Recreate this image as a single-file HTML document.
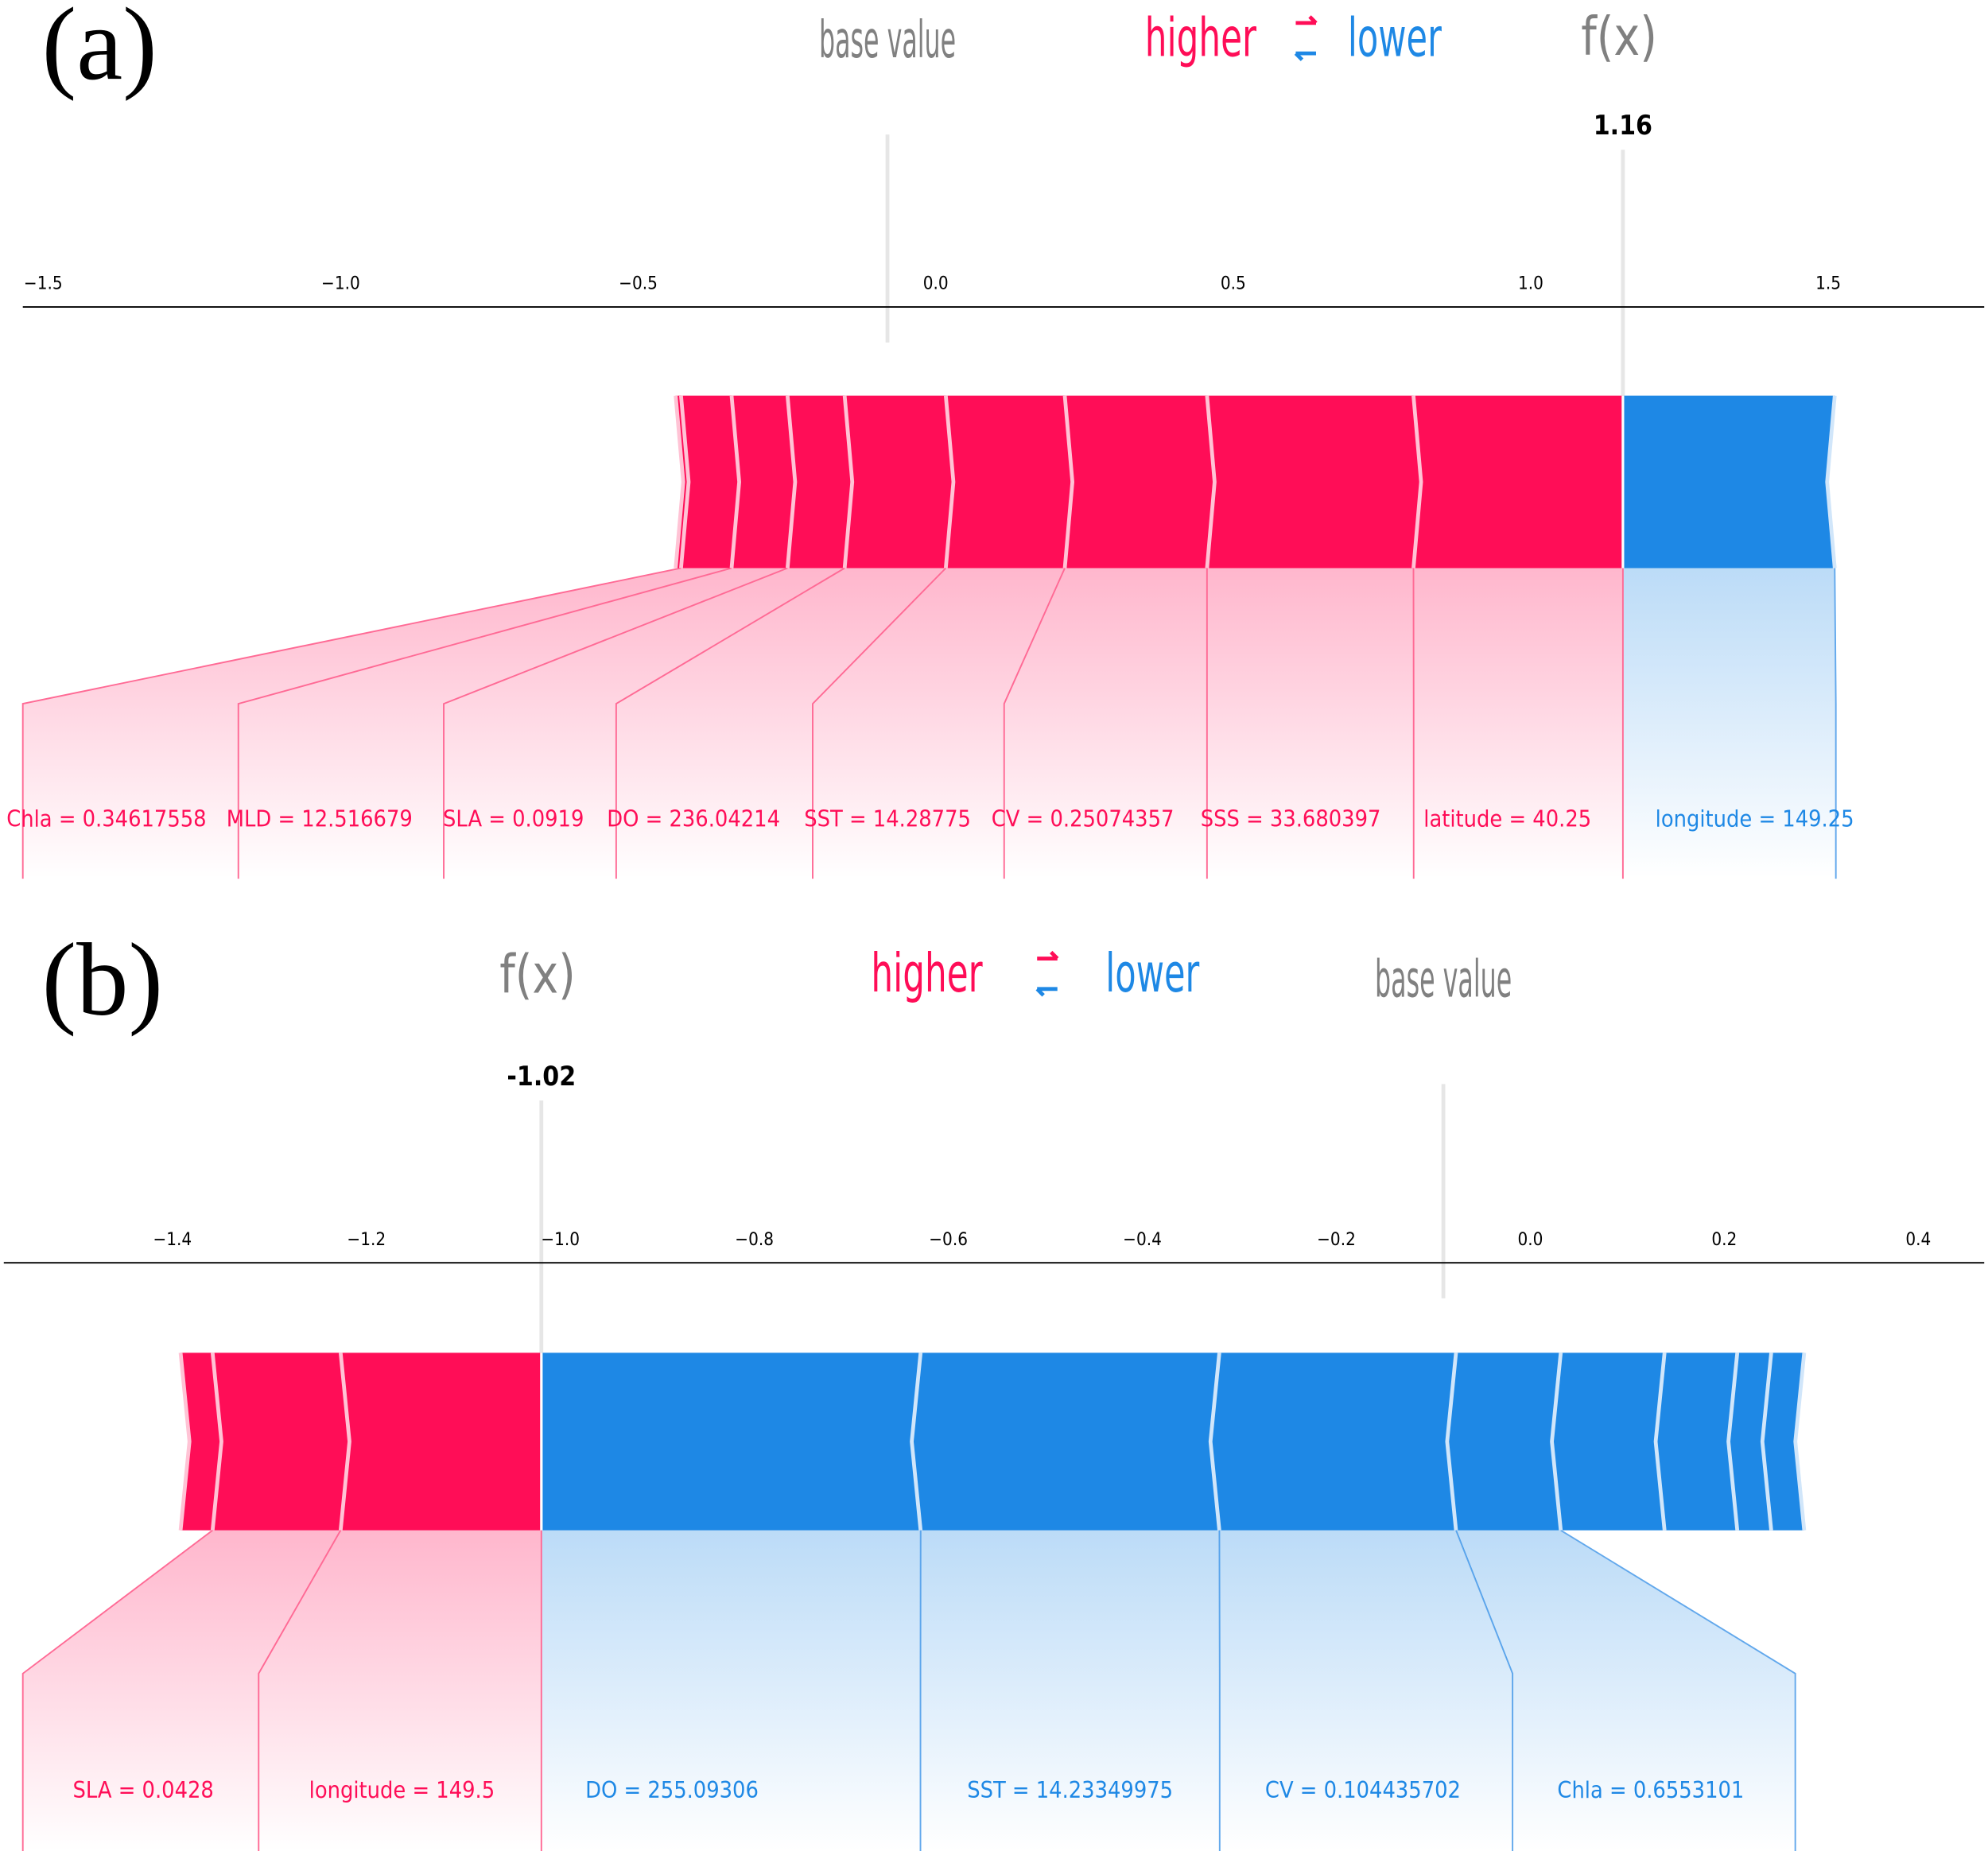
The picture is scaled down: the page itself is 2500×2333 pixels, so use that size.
<!DOCTYPE html>
<html><head><meta charset="utf-8"><style>
html,body{margin:0;padding:0;background:#fff}
svg{display:block}
text{font-family:"DejaVu Sans Condensed","DejaVu Sans","Liberation Sans",sans-serif}
text.serif{font-family:"Liberation Serif","DejaVu Serif",serif}
</style></head><body>
<svg id="chart" width="2500" height="2333" viewBox="0 0 1568 1463" xmlns="http://www.w3.org/2000/svg">
<defs>
<linearGradient id="gr" x1="0" y1="0" x2="0" y2="1"><stop offset="0" stop-color="#ff0d57" stop-opacity="0.3"/><stop offset="1" stop-color="#ff0d57" stop-opacity="0"/></linearGradient>
<linearGradient id="gb" x1="0" y1="0" x2="0" y2="1"><stop offset="0" stop-color="#1e88e5" stop-opacity="0.3"/><stop offset="1" stop-color="#1e88e5" stop-opacity="0"/></linearGradient>
</defs>
</svg>
<script>
// ---- data panel (a)
const aFx = 1.16;
const aFxPos = 1.155;
const aRedNames = ["latitude","SSS","CV","SST","DO","SLA","MLD","Chla","other"];
const aRedValues = ["40.25","33.680397","0.25074357","14.28775","236.04214","0.0919","12.516679","0.34617558",""];
const aRedEffects = [0.352,0.347,0.239,0.200,0.170,0.096,0.094,0.085,0.009];
const aBlueNames = ["longitude"];
const aBlueValues = ["149.25"];
const aBlueEffects = [0.356];
const aTicks = [-1.5,-1.0,-0.5,0.0,0.5,1.0,1.5];
const aTickLabels = ["\u22121.5","\u22121.0","\u22120.5","0.0","0.5","1.0","1.5"];
// ---- data panel (b)
const bFx = -1.02;
const bFxPos = -1.0196;
const bRedNames = ["longitude","SLA","other"];
const bRedValues = ["149.5","0.0428",""];
const bRedEffects = [0.207,0.132,0.033];
const bBlueNames = ["DO","SST","CV","Chla","o1","o2","o3","o4"];
const bBlueValues = ["255.09306","14.23349975","0.104435702","0.6553101","","","",""];
const bBlueEffects = [0.391,0.308,0.244,0.108,0.107,0.075,0.035,0.034];
const bTicks = [-1.4,-1.2,-1.0,-0.8,-0.6,-0.4,-0.2,0.0,0.2,0.4];
const bTickLabels = ["\u22121.4","\u22121.2","\u22121.0","\u22120.8","\u22120.6","\u22120.4","\u22120.2","0.0","0.2","0.4"];

const svg = document.getElementById('chart');
const NS = 'http://www.w3.org/2000/svg';
function mk(tag, attrs, parent){const e=document.createElementNS(NS,tag);for(const k in attrs)e.setAttribute(k,attrs[k]);(parent||svg).appendChild(e);return e;}
function txt(s, attrs, parent){const e=mk('text',attrs,parent);e.textContent=s;return e;}

function panel(cfg){
  const g = mk('g',{});
  
  
  const X = v => cfg.x0 + v*cfg.scale;
  const pl = txt(cfg.letter,{x:33,y:cfg.hy+22,'font-size':82,'class':'serif',fill:'#000'},g);
  
  
  const redSum = cfg.red.reduce((a,b)=>a+b,0), blueSum = cfg.blue.reduce((a,b)=>a+b,0);
  const base = cfg.fxPos - redSum + blueSum;
  const bx = X(base), fxX = X(cfg.fxPos);
  const bt = txt('base value',{x:bx,y:cfg.hy+cfg.bvdy,'text-anchor':'middle','font-size':40,fill:'#808080',textLength:108,lengthAdjust:'spacingAndGlyphs'},g);
  
  
  const ft = txt('f(x)',{x:fxX-3,y:cfg.hy+cfg.fxdy,'text-anchor':'middle','font-size':42,fill:'#808080',textLength:60,lengthAdjust:'spacingAndGlyphs'},g);
  
  
  const hi = txt('higher',{x:cfg.hix,y:cfg.hy+4,'text-anchor':'middle','font-size':42,fill:'#ff0d57',textLength:88,lengthAdjust:'spacingAndGlyphs'},g);
  
  
  const lo = txt('lower',{x:cfg.lox,y:cfg.hy+4,'text-anchor':'middle','font-size':42,fill:'#1e88e5',textLength:74,lengthAdjust:'spacingAndGlyphs'},g);
  
  
  const ax = cfg.arx, ay = cfg.hy-22;
  const ar = mk('path',{d:`M${ax-8},${ay} L${ax+8},${ay} M${ax+3},${ay-5} L${ax+8},${ay}`,stroke:'#ff0d57','stroke-width':3,fill:'none'},g);
  
  
  const al = mk('path',{d:`M${ax+8},${ay+24} L${ax-8},${ay+24} M${ax-3},${ay+29} L${ax-8},${ay+24}`,stroke:'#1e88e5','stroke-width':3,fill:'none'},g);
  
  
  const bl = mk('line',{x1:bx,x2:bx,y1:cfg.baseTop,y2:cfg.axisY+28,stroke:'#e6e6e6','stroke-width':3},g);
  
  
  const fl = mk('line',{x1:fxX,x2:fxX,y1:cfg.fxTop,y2:cfg.barTop,stroke:'#e6e6e6','stroke-width':3},g);
  
  
  const fv = txt(cfg.fxLabel,{x:fxX,y:cfg.fxTop-12,'text-anchor':'middle','font-size':21,'font-weight':'bold',fill:'#000'},g);
  
  
  const axl = mk('line',{x1:cfg.axL,x2:1565,y1:cfg.axisY,y2:cfg.axisY,stroke:'#000','stroke-width':1.2},g);
  
  
  cfg.ticks.forEach((t,i)=>{
    const tl = txt(cfg.tickLabels[i],{x:X(t),y:cfg.axisY-14,'text-anchor':'middle','font-size':14,fill:'#000'},g);
    
    
  });
  const top=cfg.barTop, bot=cfg.barBot, mid=(top+bot)/2, c=cfg.chev;
  let cur = cfg.fxPos;
  const redSegs=[], blueSegs=[];
  cfg.red.forEach((e,i)=>{ const r=X(cur), l=X(cur-e); redSegs.push([l,r,i]); cur-=e; });
  cur = cfg.fxPos;
  cfg.blue.forEach((e,i)=>{ const l=X(cur), r=X(cur+e); blueSegs.push([l,r,i]); cur+=e; });
  cfg.labels.forEach(L=>{
    const seg = (L.side==='r'?redSegs:blueSegs)[L.i];
    const [sl,sr]=seg;
    const col = L.side==='r'?'#ff0d57':'#1e88e5';
    const poly = mk('polygon',{points:`${sl},${bot} ${sr},${bot} ${L.x1},${cfg.bendY} ${L.x1},${cfg.lblBot} ${L.x0},${cfg.lblBot} ${L.x0},${cfg.bendY}`,fill:L.side==='r'?'url(#gr)':'url(#gb)'},g);
    
    
    const edgeX = L.side==='r'?sl:sr, edgeL = L.side==='r'?L.x0:L.x1;
    const pl2 = mk('polyline',{points:`${edgeX},${bot} ${edgeL},${cfg.bendY} ${edgeL},${cfg.lblBot}`,fill:'none',stroke:L.side==='r'?'#ff6a95':'#62a8ec','stroke-width':1.2},g);
    
    
    const name = (L.side==='r'?cfg.redNames:cfg.blueNames)[L.i];
    const val = (L.side==='r'?cfg.redVals:cfg.blueVals)[L.i];
    const t = txt(name+' = '+val,{x:L.tx,y:cfg.lblY,'text-anchor':'middle','font-size':18,fill:col},g);
    
    
  });
  const fxv = mk('line',{x1:fxX,x2:fxX,y1:bot,y2:cfg.lblBot,stroke:'#ff6a95','stroke-width':1.2},g);
  
  
  redSegs.forEach(([l,r,i])=>{
    const rc = i===0?0:c;
    const p = mk('polygon',{points:`${l},${top} ${r},${top} ${r+rc},${mid} ${r},${bot} ${l},${bot} ${l+c},${mid}`,fill:'#ff0d57'},g);
    
    
  });
  blueSegs.forEach(([l,r,i])=>{
    const lc = i===0?0:c;
    const p = mk('polygon',{points:`${l},${top} ${r},${top} ${r-c},${mid} ${r},${bot} ${l},${bot} ${l-lc},${mid}`,fill:'#1e88e5'},g);
    
    
  });
  redSegs.forEach(([l,r,i])=>{
    const s = mk('polyline',{points:`${l},${top} ${l+c},${mid} ${l},${bot}`,fill:'none',stroke:'#ffc3d5','stroke-width':3},g);
    
    
  });
  blueSegs.forEach(([l,r,i])=>{
    const s = mk('polyline',{points:`${r},${top} ${r-c},${mid} ${r},${bot}`,fill:'none',stroke:'#d1e6fa','stroke-width':3},g);
    
    
  });
  const fxs = mk('line',{x1:fxX,x2:fxX,y1:top,y2:bot,stroke:'#fff','stroke-width':2},g);
  
  
}

panel({id:'a',letter:'(a)',hy:40,bvdy:5,fxdy:3,hix:947,lox:1100,arx:1030,x0:738,scale:469.3,
  fxPos:aFxPos,fxLabel:aFx.toFixed(2),red:aRedEffects,blue:aBlueEffects,redNames:aRedNames,blueNames:aBlueNames,redVals:aRedValues,blueVals:aBlueValues,
  ticks:aTicks,tickLabels:aTickLabels,axisY:242,axL:18,baseTop:106,fxTop:118,barTop:312,barBot:448,chev:6,bendY:555,lblBot:693,lblY:652,
  labels:[{side:'r',i:7,x0:18,x1:188,tx:84},{side:'r',i:6,x0:188,x1:350,tx:252},{side:'r',i:5,x0:350,x1:486,tx:405},{side:'r',i:4,x0:486,x1:641,tx:547},
          {side:'r',i:3,x0:641,x1:792,tx:700},{side:'r',i:2,x0:792,x1:952,tx:854},{side:'r',i:1,x0:952,x1:1115,tx:1018},{side:'r',i:0,x0:1115,x1:1280,tx:1189},
          {side:'b',i:0,x0:1280,x1:1448,tx:1384}]});
panel({id:'b',letter:'(b)',hy:778,bvdy:8,fxdy:5,hix:731,lox:909,arx:826,x0:1207,scale:765,
  fxPos:bFxPos,fxLabel:bFx.toFixed(2),red:bRedEffects,blue:bBlueEffects,redNames:bRedNames,blueNames:bBlueNames,redVals:bRedValues,blueVals:bBlueValues,
  ticks:bTicks,tickLabels:bTickLabels,axisY:996,axL:3,baseTop:855,fxTop:868,barTop:1067,barBot:1207,chev:7,bendY:1320,lblBot:1460,lblY:1418,
  labels:[{side:'r',i:1,x0:18,x1:204,tx:113},{side:'r',i:0,x0:204,x1:427,tx:317},
          {side:'b',i:0,x0:427,x1:726,tx:530},{side:'b',i:1,x0:726,x1:962,tx:844},{side:'b',i:2,x0:962,x1:1193,tx:1075},{side:'b',i:3,x0:1193,x1:1416,tx:1302}]});
</script>
</body></html>
